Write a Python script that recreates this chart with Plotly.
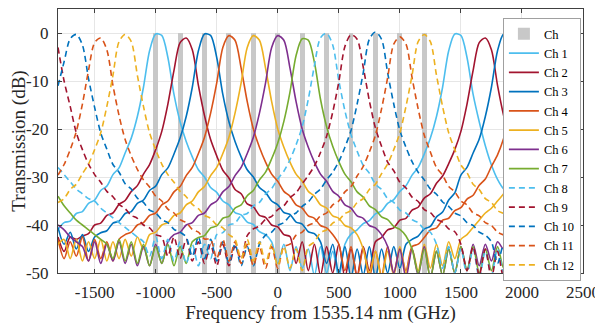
import plotly.graph_objects as go

# Frequency grid (GHz from 1535.14 nm)
FREQ = list(range(-1800, 1951, 50))

# ITU grid channel markers
GRID_FREQ = [-1000, -800, -600, -400, -200, 0, 200, 400, 600, 800, 1000, 1200]
GRID_TOP = [0] * 12
AXIS_BOTTOM = -50

CH1 = [-40.9,-39.5,-39.2,-37.6,-37.2,-35.5,-34.8,-32.8,-31.9,-29.5,-28.1,-25,-21.9,-17.4,-11.3,-3.7,-0.2,
       -0.5,-5.1,-12.8,-18.5,-22.6,-25.8,-28.5,-30,-32.2,-33.2,-35,-35.8,-37.4,-37.9,-39.4,-39.9,-41.4,-42,
       -43.5,-48,-44,-49.5,-44.5,-49,-45,-50.5,-44.5,-50,-45.5,-51,-44,
       -41.9,-41,-39.7,-39.1,-37.7,-37.1,-35.5,-34.7,-33,-31.8,-29.6,-28,-25.2,-21.9,-17.4,-11.3,-3.7,-0.2,
       -0.5,-5.1,-12.8,-18.5,-23.5,-27.5,-30.5,-32.5,-33.5,-34.5]
CH2 = [-42.5,-45.5,-42.5,
       -43,-42.3,-41.8,-40,-39.6,-38,-37.5,-35.7,-34.9,-33,-31.8,-29.4,-27.4,-24.3,-20.5,-14.8,-7.8,-2,
       -1.05,-3.5,-10.9,-17.2,-22.2,-25.6,-28.6,-30.2,-32.6,-33.5,-35.6,-36.2,-38,-38.4,-40,-40.4,-42,-42.4,
       -48,-43.5,-49.5,-44,-50.5,-44.5,-50,-44,-51,-45,-50.5,-44.5,-49.5,-43.5,
       -42.6,-41,-40.6,-39,-38.6,-36.9,-36.3,-34.4,-33.5,-31.3,-29.8,-27.2,-24.3,-20.5,-14.8,-7.8,-2,-1.05,
       -3.5,-10.9,-17.2,-22.2,-25.6]
CH3 = [-40.5,-44,-41.5,-45,-42,-45.5,-42.5,
       -41.6,-41.2,-39.6,-39.2,-37.6,-37.2,-35.5,-34.8,-32.8,-31.9,-29.5,-28.1,-25.2,-21.9,-17.4,-11.3,-3.7,-0.2,
       -0.5,-5.1,-12.8,-18.5,-22.6,-25.8,-28.5,-30,-32.2,-33.2,-35,-35.8,-37.4,-37.8,-39.4,-39.8,-41.4,-41.8,
       -43.5,-48,-44,-50,-44.5,-51,-45,-50.5,-44.5,-51,-45,-50,-44.5,-49,-44,
       -43,-42.3,-40.8,-40.3,-38.3,-37.3,-34.8,-33.3,-29.6,-28,-25,-22.1,-17.4,-11.3,-3.7,-0.2,-0.5,-5.1]
CH4 = [-43,-47,-43.5,-46.5,-42.5,-47.5,-43,-47,-43.5,-47.5,-43,
       -42,-41.5,-40,-39.5,-38,-37.5,-35.8,-35,-33.1,-32,-29.7,-28,-25.1,-21.7,-16.7,-10.4,-3,-0.55,
       -1.5,-7.3,-14.3,-20,-23.8,-26.9,-29.4,-30.9,-33,-34,-35.8,-36.5,-38.1,-38.6,-40.1,-40.6,-42,
       -44,-49.5,-44.5,-51,-45,-51,-45.5,-50.5,-44.5,-50,-45,-49.5,-44.5,-44,
       -42.6,-41,-40.6,-39,-38.6,-37,-36.4,-34.6,-33.8,-31.7,-30.4,-27.8,-25.4,-22,-17.3,-11.1]
CH5 = [-44,-43,-47,-43,-47.5,-43.5,-47,-43,-47.5,-43.5,-47,-43,-46.5,-42.5,-45,
       -42,-41.5,-40,-39.5,-38,-37.5,-35.8,-35,-33.1,-32,-29.7,-28,-25.1,-21.7,-16.7,-10.4,-3,-0.55,
       -1.5,-7.3,-14.3,-20,-23.8,-26.9,-29.4,-30.9,-33,-34,-35.8,-36.5,-38.1,-38.6,-40.1,-40.6,-42,
       -45,-50,-45.5,-51,-45.5,-50.5,-44.5,-50,-45,-49.5,-44,-49,-44,-48.5,-43.5,-47,-43,-42,
       -40.5,-39,-37.5,-36.5,-35,-33.5,-32,-30.5]
CH6 = [-40,-41,-42.5,-43.5,
       -44.5,-47.5,-43.5,-48,-44,-47.5,-43.5,-48,-44,-48.5,-44.5,-48.5,-44,-48,-43.5,
       -42,-41.5,-40,-39.5,-38,-37.5,-35.8,-35,-33.1,-32,-29.7,-28,-25.1,-21.7,-16.7,-10.4,-3,-0.55,
       -1.5,-7.3,-14.3,-20,-23.8,-26.9,-29.4,-30.9,-33,-34,-35.8,-36.5,-38.1,-38.6,-40.1,-40.6,-42,
       -44.5,-50,-45,-51,-45,-50.5,-44.5,-51,-45.5,-50.5,-45,-50,-44.5,-49.5,-44,-48.5,-44,-47.5,-43.5,-45,
       -42,-40]
CH7 = [-34,-36,-37.5,-39,-40,-41,-42,-43,
       -44,-47,-43,-47.5,-43.5,-48,-44,-48.5,-44.5,-48,-44,-48.5,-44.5,-48,-43.5,
       -42.6,-42.2,-40.6,-40.2,-38.6,-38.2,-36.5,-35.8,-33.9,-32.8,-30.6,-29,-26.2,-22.9,-18.4,-12.3,-4.7,-1.2,
       -1.5,-6.1,-13.8,-19.5,-23.6,-26.8,-29.4,-31,-33.1,-34.2,-36,-36.8,-38.3,-38.9,-40.3,-40.9,-42.3,
       -45,-50,-45,-51,-45.5,-50.5,-45,-50,-44.5,-49.5,-44.5,-50,-45,-49.5,-44.5,-49,-44.5,-48]
CH8 = [-28,-29.5,-31,-32.5,-33.5,-34.5,-35,-36.5,-37.5,-38.5,-39.5,-40.5,-41.5,-42.5,
       -43.5,-46.5,-42.5,-47,-43,-47.5,-43.5,-48,-44,-48.5,-44,-47,
       -42,-41.6,-40,-39.6,-38,-37.6,-36,-35.3,-33.5,-32.4,-30.4,-28.8,-26.4,-23.3,-19.5,-13.8,-6.8,-1,-0.05,
       -2.5,-9.9,-16.2,-21.2,-24.6,-27.6,-29.2,-31.5,-32.6,-34.5,-35.3,-36.9,-37.5,-38.9,-39.5,-40.9,-41.5,
       -44,-49,-44.5,-50,-45,-50.5,-45,-51,-45.5,-50.5,-45,-50,-44.5,-49.5]
CH9 = [-3,-10,-15.3,-20.8,-24.3,-27.3,-29.5,-31.1,-33,-34.1,-35.7,-36.6,-38,-38.6,-40,-40.6,-42,
       -42.5,-46.5,-42.5,-47,-43,-47.5,-43.5,-48,-44,-48.5,-44,-48.5,-44.5,-47,
       -42.2,-40.8,-40.2,-38.8,-38.2,-36.8,-36,-34.3,-33.3,-31.4,-29.7,-27.7,-24.9,-21.5,-16.5,-10.2,-2.8,-0.35,
       -1.3,-7.1,-14.1,-19.8,-23.6,-26.9,-28.7,-31.1,-32.3,-34.2,-35.1,-36.8,-37.4,-38.8,-39.4,-40.8,-41.4,
       -44,-49.5,-44.5,-50.5,-45,-51,-45.5,-51,-46,-50.5]
CH10 = [-11,-6,-1.2,-0.3,-2.5,-9.5,-15.5,-20.8,-24.2,-27.4,-29,-31.4,-32.5,-34.4,-35.3,-36.9,-37.5,-38.9,-39.5,-40.9,-41.5,
        -42.5,-46.5,-42.5,-47,-43,-47.5,-43.5,-48,-44,-48.5,-44.5,-48.5,-44,
        -42.1,-41.5,-40.1,-39.5,-38.1,-37.5,-36.1,-35.2,-33.6,-32.5,-30.6,-29,-26.8,-23.8,-20.3,-14.8,-8.3,-1.3,0.2,
        -1.3,-8.3,-14.8,-20.3,-23.8,-26.8,-29,-30.6,-32.5,-33.6,-35.2,-36.1,-37.5,-38.1,-39.5,-40.1,-41.5,-42.1,
        -43.5,-48,-44,-49,-45]
CH11 = [-29.6,-27.4,-24.3,-20.5,-14.8,-7.8,-2,-1.05,-3.5,-10.9,-17.2,-22.2,-25.6,-28.4,-30.6,-32.1,-34,-35,-36.7,-37.5,-38.9,-39.5,-40.9,-41.5,-42.9,
        -43,-47,-43,-47.5,-43.5,-48,-44,-48.5,-44.5,-49,-44.5,-49,-44.5,-44,
        -42.1,-41.5,-40.1,-39.5,-38.1,-37.5,-35.8,-35,-33.1,-32,-29.8,-27.8,-24.8,-21.3,-15.8,-9.3,-2.3,-0.8,
        -2.3,-9.3,-15.8,-21.3,-24.8,-28,-29.6,-32,-33.1,-35,-35.8,-37.5,-38.1,-39.5,-40.1,-41.5,-42.1,
        -43.5,-47.5]
CH12 = [-35.3,-34.5,-32.6,-31.5,-29.3,-27.3,-24.3,-20.8,-15.3,-8.8,-1.8,-0.3,-1.8,-8.8,-15.3,-20.8,-24.3,-27.3,-29.5,-31.1,-33,-34.1,-35.7,-36.6,-38,-38.6,-40,-40.6,-42,
        -43,-47,-43,-47.5,-43.5,-48,-44,-48.5,-44.5,-49,-45,-49.5,-44.5,-43.5,
        -41.6,-41,-39.6,-39,-37.6,-37,-35.3,-34.5,-32.6,-31.5,-29.3,-27.3,-24.3,-20.8,-15.3,-8.8,-1.8,-0.3,
        -1.8,-8.8,-15.3,-20.8,-24.3,-27.5,-29.1,-31.5,-32.6,-34.5,-35.3,-37,-37.6,-39,-39.6]

CHANNELS = [CH1, CH2, CH3, CH4, CH5, CH6, CH7, CH8, CH9, CH10, CH11, CH12]
NAMES = [f"Ch {i}" for i in range(1, 13)]
COLORS = ["#4DBEEE", "#A2142F", "#0072BD", "#D95319", "#EDB120", "#7E2F8E", "#77AC30",
          "#4DBEEE", "#A2142F", "#0072BD", "#D95319", "#EDB120"]
DASHES = ["solid"] * 7 + ["6px,4px"] * 5

X_TICKS = [-1500, -1000, -500, 0, 500, 1000, 1500, 2000, 2500]
Y_TICKS = [-50, -40, -30, -20, -10, 0]

FONT = "Liberation Serif"

fig = go.Figure()
fig.add_trace(go.Bar(
    x=GRID_FREQ, y=[t - AXIS_BOTTOM for t in GRID_TOP], base=AXIS_BOTTOM,
    width=40, marker=dict(color="#c8c8c8", line=dict(width=0)), name="Ch",
))
for vals, name, col, dash in zip(CHANNELS, NAMES, COLORS, DASHES):
    assert len(vals) == len(FREQ), (name, len(vals))
    fig.add_trace(go.Scatter(
        x=FREQ, y=vals, mode="lines", name=name,
        line=dict(color=col, width=1.6, dash=dash, shape="spline", smoothing=0.8),
    ))

axis_common = dict(
    showline=True, linecolor="#404040", linewidth=1, mirror="allticks",
    ticks="inside", ticklen=4, tickcolor="#404040", automargin=False,
    showgrid=True, gridcolor="#e6e6e6", gridwidth=1, zeroline=False,
    tickfont=dict(family=FONT, size=17, color="#262626"),
)
fig.update_xaxes(range=[-1800, 2500], tickvals=X_TICKS, ticktext=[str(v) for v in X_TICKS],
                 ticklabelstandoff=4,
                 title=dict(text="Frequency from 1535.14 nm (GHz)", standoff=4,
                            font=dict(family=FONT, size=19, color="#262626")),
                 **axis_common)
fig.update_yaxes(range=[-50, 5], tickvals=Y_TICKS, ticktext=[str(v) for v in Y_TICKS],
                 ticklabelstandoff=5,
                 title=dict(text="Transmission (dB)", standoff=4,
                            font=dict(family=FONT, size=19, color="#262626")),
                 **axis_common)
# page body adds an 8px offset; figure is sized so the plot lands where the reference has it
fig.update_layout(
    width=595, height=319,
    margin=dict(l=50, r=20, t=1, b=54),
    plot_bgcolor="white", paper_bgcolor="white",
    bargap=0,
    legend=dict(x=0.996, xanchor="right", y=0.965, yanchor="top",
                bgcolor="white", bordercolor="#a0a0a0", borderwidth=1,
                font=dict(family=FONT, size=12.5, color="#000000"),
                tracegroupgap=0, itemwidth=30),
    showlegend=True,
)
fig.write_html("out.html")
